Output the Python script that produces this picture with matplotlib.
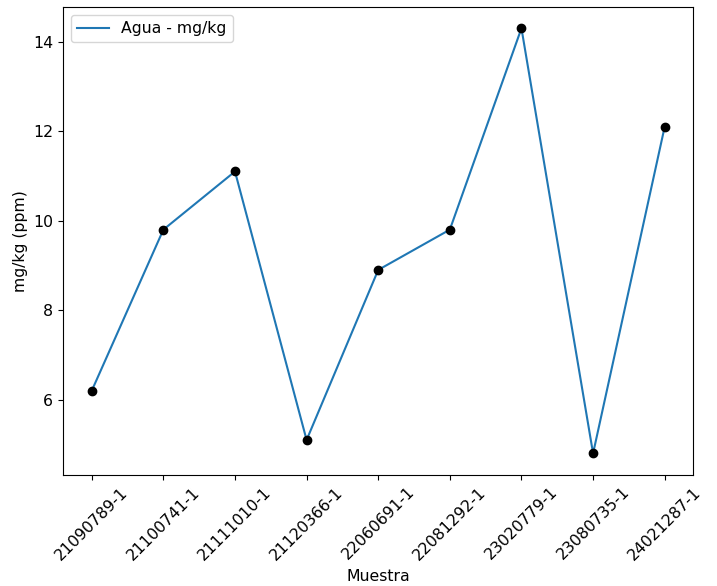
import matplotlib.pyplot as plt

muestras = ["21090789-1", "21100741-1", "21111010-1", "21120366-1", "22060691-1",
            "22081292-1", "23020779-1", "23080735-1", "24021287-1"]
agua = [6.2, 9.8, 11.1, 5.1, 8.9, 9.8, 14.3, 4.8, 12.1]

plt.rcParams['font.size'] = 11.3

fig = plt.figure(figsize=(7.17, 5.86), dpi=100)
plt.plot(muestras, agua, label="Agua - mg/kg")
plt.plot(muestras, agua, 'o', color='black')
plt.xlabel("Muestra")
plt.ylabel("mg/kg (ppm)")
plt.xticks(rotation=45)
plt.legend(loc='upper left')
plt.subplots_adjust(left=0.088, right=0.967, top=0.988, bottom=0.19)
plt.savefig("out.png")
